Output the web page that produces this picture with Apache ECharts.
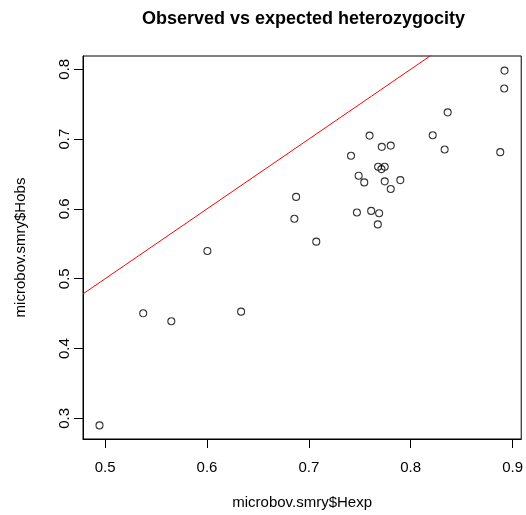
<!DOCTYPE html>
<html>
<head>
<meta charset="utf-8">
<title>Observed vs expected heterozygocity</title>
<script src="https://cdn.jsdelivr.net/npm/echarts@6/dist/echarts.min.js"></script>
<style>
  html, body { margin: 0; padding: 0; background: #fff; }
  #chart { width: 526px; height: 515px; }
</style>
</head>
<body>
<div id="chart"></div>
<script>
// Expected (Hexp) and observed (Hobs) heterozygosity per microsatellite locus
const hexp = [0.4945, 0.5374, 0.5650, 0.6335, 0.6004, 0.6858, 0.6875, 0.7073,
              0.7414, 0.7489, 0.7544, 0.7472, 0.7596, 0.7612, 0.7690, 0.7677,
              0.7680, 0.7713, 0.7745, 0.7716, 0.7804, 0.7745, 0.7804, 0.7898,
              0.8216, 0.8333, 0.8363, 0.8879, 0.8918, 0.8921];
const hobs = [0.2900, 0.4505, 0.4391, 0.4529, 0.5398, 0.5859, 0.6172, 0.5531,
              0.6761, 0.6476, 0.6380, 0.5949, 0.7050, 0.5972, 0.5939, 0.5778,
              0.6604, 0.6570, 0.6604, 0.6889, 0.6907, 0.6395, 0.6285, 0.6413,
              0.7055, 0.6851, 0.7383, 0.6813, 0.7725, 0.7981];

// Tick positions
const xTicks = [0.5, 0.6, 0.7, 0.8, 0.9];
const yTicks = [0.3, 0.4, 0.5, 0.6, 0.7, 0.8];

// Reference line Hobs = Hexp
const ablineIntercept = 0;
const ablineSlope = 1;

const xRange = [0.4783, 0.9085];
const yRange = [0.2705, 0.8190];

const points = hexp.map((x, i) => [x, hobs[i]]);
const refLine = xRange.map(x => [x, ablineIntercept + ablineSlope * x]);

const FONT = '"Liberation Sans", Arial, Helvetica, sans-serif';

const chart = echarts.init(document.getElementById('chart'), null, { renderer: 'canvas' });

chart.setOption({
  animation: false,
  backgroundColor: '#ffffff',
  textStyle: { fontFamily: FONT },
  graphic: [{
    type: 'text',
    x: 303.5,
    y: 19,
    style: {
      text: 'Observed vs expected heterozygocity',
      font: 'bold 18px ' + FONT,
      fill: '#000',
      textAlign: 'center',
      textVerticalAlign: 'middle'
    }
  }],
  grid: {
    left: 83,
    top: 56,
    width: 441,
    height: 385,
    show: true,
    borderColor: '#000',
    borderWidth: 1,
    backgroundColor: 'transparent'
  },
  xAxis: {
    type: 'value',
    min: xRange[0],
    max: xRange[1],
    name: 'microbov.smry$Hexp',
    nameLocation: 'middle',
    nameGap: 56,
    nameTextStyle: { fontFamily: FONT, fontSize: 15, color: '#000' },
    axisLine: { show: true, onZero: false, lineStyle: { color: '#000', width: 1 } },
    axisTick: { show: true, length: 9, lineStyle: { color: '#000' }, customValues: xTicks },
    axisLabel: {
      fontFamily: FONT, fontSize: 15, color: '#000', margin: 21,
      customValues: xTicks,
      formatter: v => String(+v.toFixed(1))
    },
    splitLine: { show: false }
  },
  yAxis: {
    type: 'value',
    min: yRange[0],
    max: yRange[1],
    name: 'microbov.smry$Hobs',
    nameLocation: 'middle',
    nameGap: 55,
    nameRotate: 90,
    nameTextStyle: { fontFamily: FONT, fontSize: 15, color: '#000' },
    axisLine: { show: true, onZero: false, lineStyle: { color: '#000', width: 1 } },
    axisTick: { show: true, length: 9, lineStyle: { color: '#000' }, customValues: yTicks },
    axisLabel: {
      fontFamily: FONT, fontSize: 15, color: '#000', margin: 11, rotate: 90,
      customValues: yTicks,
      formatter: v => String(+v.toFixed(1))
    },
    splitLine: { show: false }
  },
  series: [
    {
      type: 'line',
      data: refLine,
      clip: true,
      symbol: 'none',
      lineStyle: { color: '#ff0000', width: 1 },
      silent: true,
      z: 2
    },
    {
      type: 'scatter',
      data: points,
      symbol: 'circle',
      symbolSize: 7,
      itemStyle: { color: 'transparent', borderColor: '#000', borderWidth: 1.1 },
      z: 3
    }
  ]
});
</script>
</body>
</html>
